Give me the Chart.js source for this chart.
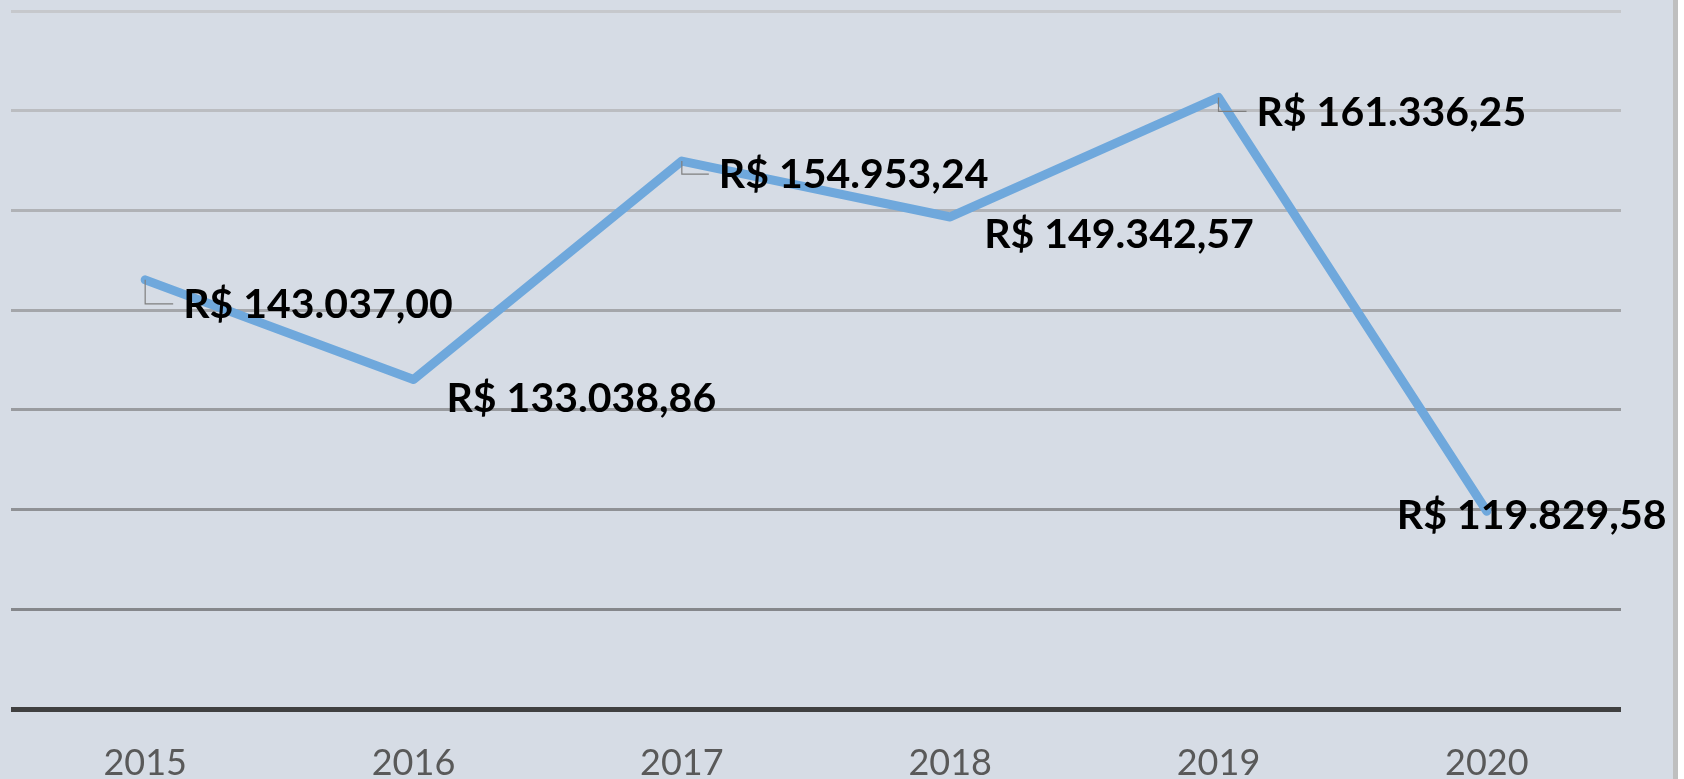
<!DOCTYPE html>
<html>
<head>
<meta charset="utf-8">
<script src="https://cdn.jsdelivr.net/npm/chart.js@4/dist/chart.umd.min.js"></script>
<style>
  html,body{margin:0;padding:0;background:#fff;}
  #wrap{width:1673px;height:779px;background:#D6DCE5;border-right:5px solid #BFBFBF;}
</style>
</head>
<body>
<div id="wrap"><canvas id="chart" width="1673" height="779"></canvas></div>
<script>
/* ===== dados: gasto anual (R$) ===== */
const anos=['2015','2016','2017','2018','2019','2020'];
const valores=[143037.00,133038.86,154953.24,149342.57,161336.25,119829.58];
const yMin=100000, yMax=170000, yStep=10000;

// posicao de cada rotulo em relacao ao ponto (px) e se tem linha guia
const rotPos=[{dx:38,dy:25,guia:true},{dx:33,dy:19,guia:false},{dx:37,dy:14,guia:true},
              {dx:34,dy:18,guia:false},{dx:38,dy:15,guia:true},{dx:-90,dy:5,guia:false}];

// cores das linhas de grade, de baixo (eixo) para cima
const gradeCor=['#404040','#85878B','#8F9195','#999B9F','#A4A6AA','#B0B2B6','#BBBDC1','#C6C8CC'];

function fmtBRL(v){
  const p=v.toFixed(2).split('.');
  const int=p[0].replace(/\B(?=(\d{3})+(?!\d))/g,'.');
  return 'R$ '+int+','+p[1];
}

const rotulos={
  id:'rotulos',
  afterDatasetsDraw(chart){
    const {ctx}=chart, meta=chart.getDatasetMeta(0);
    ctx.save();
    meta.data.forEach((pt,i)=>{
      const o=rotPos[i];
      if(o.guia){
        ctx.strokeStyle='#7F7F7F'; ctx.lineWidth=1.2;
        ctx.beginPath();
        ctx.moveTo(pt.x,pt.y); ctx.lineTo(pt.x,pt.y+o.dy-1); ctx.lineTo(pt.x+o.dx-10,pt.y+o.dy-1);
        ctx.stroke();
      }
      ctx.font='bold 41px Lato';
      ctx.fillStyle='#000'; ctx.textAlign='left'; ctx.textBaseline='middle';
      ctx.fillText(fmtBRL(valores[i]),pt.x+o.dx,pt.y+o.dy);
    });
    ctx.restore();
  }
};

new Chart(document.getElementById('chart'),{
  type:'line',
  data:{labels:anos,datasets:[{data:valores,borderColor:'#6FA8DC',borderWidth:9,
    borderJoinStyle:'round',borderCapStyle:'round',pointRadius:0,tension:0,fill:false}]},
  options:{
    responsive:false,animation:false,
    layout:{padding:{left:11,right:52,top:11,bottom:0}},
    plugins:{legend:{display:false},tooltip:{enabled:false}},
    scales:{
      x:{offset:true,grid:{display:false,drawTicks:false},border:{display:false},
         ticks:{color:'#595959',font:{family:'Lato',size:36,lineHeight:1},padding:36},
         afterFit:s=>{s.height=70;}},
      y:{min:yMin,max:yMax,ticks:{display:false,stepSize:yStep},border:{display:false},
         grid:{drawTicks:false,color:c=>gradeCor[c.index]||'#999',lineWidth:c=>c.index===0?5:3}}
    }
  },
  plugins:[rotulos]
});
</script>
</body>
</html>
